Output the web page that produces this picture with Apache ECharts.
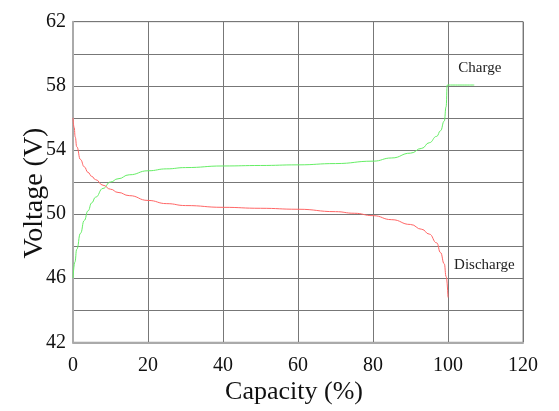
<!DOCTYPE html>
<html>
<head>
<meta charset="utf-8">
<script src="https://cdn.jsdelivr.net/npm/echarts@6/dist/echarts.min.js"></script>
<style>html,body{margin:0;padding:0;background:#fff;}#c{width:559px;height:411px;}</style>
</head>
<body>
<div id="c"></div>
<script>
const chargeCapacity = [0,0.5,1,2,3,4,5,6,8,10,12,15,20,25,30,40,50,60,70,80,85,90,93,95,97,98,99,99.5,99.8,100,107];
const chargeVoltage  = [46.0,47.0,47.8,48.8,49.6,50.2,50.7,51.05,51.6,52.0,52.2,52.45,52.7,52.82,52.9,53.0,53.03,53.07,53.15,53.3,53.5,53.8,54.1,54.45,54.85,55.2,55.8,56.7,58.05,58.05,58.05];
const dischargeCapacity = [0,0.3,0.6,1,2,3,4,5,6,8,10,12,15,20,25,30,40,50,60,70,75,80,85,90,93,95,97,98,99,99.5,100];
const dischargeVoltage  = [56.0,55.4,54.8,54.2,53.4,52.95,52.6,52.35,52.15,51.8,51.55,51.35,51.15,50.85,50.65,50.53,50.42,50.36,50.3,50.15,50.05,49.9,49.65,49.35,49.05,48.75,48.2,47.6,46.9,46.1,44.8];
const seriesNames = ['Charge','Discharge'];
const yTickLabels = [42,46,50,54,58,62];
const xName = 'Capacity (%)';
const yName = 'Voltage (V)';

const labelPos = { Charge: [108.5, 59.1], Discharge: [109.7, 46.82] };
const FONT = 'Liberation Serif';

const zip = (a,b) => a.map((v,i)=>[v,b[i]]);
const chart = echarts.init(document.getElementById('c'));
chart.setOption({
  animation: false,
  backgroundColor: '#fff',
  grid: { left: 73, right: 36, top: 21.7, bottom: 68.7, show: true, borderColor: '#888', borderWidth: 1 },
  xAxis: {
    type: 'value', min: 0, max: 120, interval: 20,
    name: xName, nameLocation: 'middle', nameGap: 37, nameMoveOverlap: false,
    nameTextStyle: { fontFamily: FONT, fontSize: 26, color: '#111', padding: [0, 8, 0, 0] },
    axisLine: { show: true, lineStyle: { color: '#aaa', width: 2 } },
    axisTick: { show: false },
    axisLabel: { fontFamily: FONT, fontSize: 20, color: '#111', margin: 13 },
    splitLine: { show: true, lineStyle: { color: '#777', width: 1 } }
  },
  yAxis: {
    type: 'value', min: 42, max: 62, interval: 2,
    name: yName, nameLocation: 'middle', nameGap: 24, nameMoveOverlap: false,
    nameTextStyle: { fontFamily: FONT, fontSize: 28, color: '#111', padding: [0, 22, 0, 0] },
    axisLine: { show: true, lineStyle: { color: '#aaa', width: 2 } },
    axisTick: { show: false },
    axisLabel: { fontFamily: FONT, fontSize: 20, color: '#111', margin: 7,
      formatter: v => (yTickLabels.indexOf(v) >= 0 ? String(v) : '') },
    splitLine: { show: true, lineStyle: { color: '#777', width: 1 } }
  },
  series: [
    {
      name: seriesNames[0], type: 'line', data: zip(chargeCapacity, chargeVoltage),
      smooth: true, smoothMonotone: 'x', showSymbol: false,
      lineStyle: { color: '#66ee66', width: 1 },
      markPoint: {
        symbol: 'circle', symbolSize: 0,
        data: [{ coord: labelPos.Charge, value: seriesNames[0] }],
        label: { show: true, position: 'inside', formatter: seriesNames[0], fontFamily: FONT, fontSize: 15, color: '#222' }
      }
    },
    {
      name: seriesNames[1], type: 'line', data: zip(dischargeCapacity, dischargeVoltage),
      smooth: true, smoothMonotone: 'x', showSymbol: false,
      lineStyle: { color: '#ff6666', width: 1 },
      markPoint: {
        symbol: 'circle', symbolSize: 0,
        data: [{ coord: labelPos.Discharge, value: seriesNames[1] }],
        label: { show: true, position: 'inside', formatter: seriesNames[1], fontFamily: FONT, fontSize: 15, color: '#222' }
      }
    }
  ]
});
</script>
</body>
</html>
